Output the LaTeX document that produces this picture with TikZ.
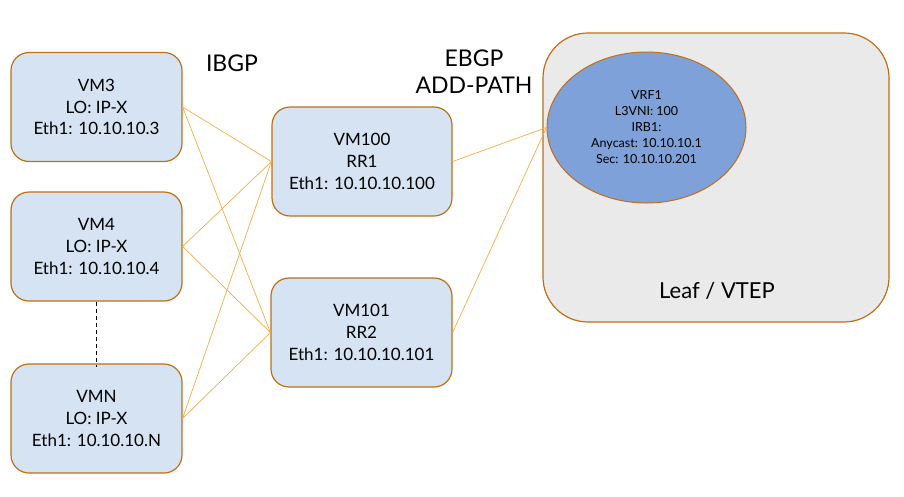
\documentclass[tikz,border=0pt]{standalone}
\usepackage{fontspec}
\setmainfont{Lato}
\usetikzlibrary{shapes.geometric}
\definecolor{boxfill}{RGB}{213,227,242}
\definecolor{boxedge}{RGB}{191,112,20}
\definecolor{linkc}{RGB}{247,170,70}
\definecolor{ellfill}{RGB}{126,161,218}
\definecolor{leaffill}{RGB}{234,234,234}
\tikzset{
  vmbox/.style={draw=boxedge, line width=1.2pt, fill=boxfill, rounded corners=18pt,
    minimum height=109pt, align=center, inner sep=0pt,
    font=\fontsize{17}{21.7}\selectfont},
  link/.style={draw=linkc, line width=0.7pt},
  lbl/.style={font=\fontsize{23}{27}\selectfont, align=center, inner sep=0pt}
}
\begin{document}
\begin{tikzpicture}[x=1pt,y=-1pt]
\useasboundingbox (0,0) rectangle (904,496);
% leaf
\node[draw=boxedge, line width=1.2pt, fill=leaffill, rounded corners=45pt,
  minimum width=346pt, minimum height=289pt, inner sep=0pt] (leaf) at (716,177.5) {};
\node[lbl, font=\fontsize{22}{26}\selectfont] (leaflbl) at (717,291) {Leaf / VTEP};
\node[ellipse, draw=boxedge, line width=1pt, fill=ellfill, minimum width=199pt,
  minimum height=151pt, inner sep=0pt, align=center,
  font=\fontsize{12.5}{16}\selectfont] (vrf) at (646.5,127.5)
  {VRF1\\L3VNI: 100\\IRB1:\\Anycast: 10.10.10.1\\Sec: 10.10.10.201};
% VMs
\node[vmbox, minimum width=171pt] (vm3) at (96.5,107) {VM3\\LO: IP-X\\Eth1: 10.10.10.3};
\node[vmbox, minimum width=171pt] (vm4) at (96.5,246.5) {VM4\\LO: IP-X\\Eth1: 10.10.10.4};
\node[vmbox, minimum width=171pt] (vmn) at (96.5,418.5) {VMN\\LO: IP-X\\Eth1: 10.10.10.N};
\node[vmbox, minimum width=180pt] (rr1) at (362,161.5) {VM100\\RR1\\Eth1: 10.10.10.100};
\node[vmbox, minimum width=181pt] (rr2) at (361.5,332.5) {VM101\\RR2\\Eth1: 10.10.10.101};
% labels
\node[lbl] (ibgp) at (232,63) {IBGP};
\node[lbl] (ebgp) at (474,72) {EBGP\\ADD-PATH};
% links
\draw[link] (vm3.east) -- (rr1.west);
\draw[link] (vm3.east) -- (rr2.west);
\draw[link] (vm4.east) -- (rr1.west);
\draw[link] (vm4.east) -- (rr2.west);
\draw[link] (vmn.east) -- (rr1.west);
\draw[link] (vmn.east) -- (rr2.west);
\draw[link] (rr1.east) -- (vrf.west);
\draw[link] (rr2.east) -- (vrf.west);
\draw[dashed, line width=0.8pt, dash pattern=on 4pt off 3pt] (vm4.south) -- ([yshift=-4pt]vmn.north);
\end{tikzpicture}
\end{document}
